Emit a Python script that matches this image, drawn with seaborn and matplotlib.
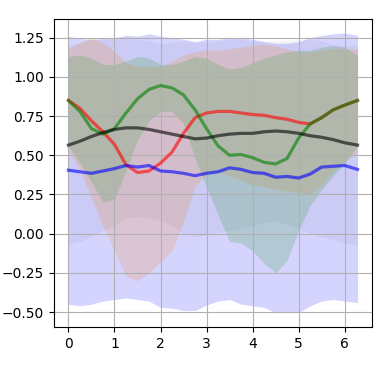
import numpy as np
import matplotlib
matplotlib.use("Agg")
import matplotlib.pyplot as plt
import seaborn as sns

# valeurs
x = [0, 0.25, 0.5, 0.75, 1.0, 1.25, 1.5, 1.75, 2.0, 2.25, 2.5, 2.75, 3.0,
     3.25, 3.5, 3.75, 4.0, 4.25, 4.5, 4.75, 5.0, 5.25, 5.5, 5.75, 6.0, 6.28]

red_mean = [0.85, 0.80, 0.72, 0.65, 0.57, 0.44, 0.39, 0.40, 0.45, 0.52, 0.64, 0.74, 0.77,
            0.78, 0.78, 0.77, 0.76, 0.755, 0.74, 0.73, 0.71, 0.70, 0.74, 0.79, 0.82, 0.85]
red_low = [0.53, 0.41, 0.23, 0.05, -0.11, -0.27, -0.30, -0.25, -0.18, -0.11, 0.08, 0.30, 0.38,
           0.39, 0.37, 0.34, 0.31, 0.30, 0.28, 0.27, 0.26, 0.25, 0.31, 0.40, 0.46, 0.52]
red_high = [1.18, 1.22, 1.25, 1.22, 1.16, 1.09, 1.065, 1.065, 1.065, 1.10, 1.14, 1.16, 1.17,
            1.17, 1.18, 1.19, 1.20, 1.21, 1.20, 1.18, 1.16, 1.16, 1.17, 1.18, 1.18, 1.18]

green_mean = [0.85, 0.78, 0.67, 0.635, 0.67, 0.77, 0.86, 0.92, 0.945, 0.93, 0.885, 0.79, 0.67,
              0.56, 0.50, 0.505, 0.485, 0.455, 0.445, 0.48, 0.61, 0.70, 0.74, 0.79, 0.82, 0.85]
green_low = [0.56, 0.45, 0.33, 0.20, 0.22, 0.40, 0.60, 0.72, 0.78, 0.78, 0.70, 0.48, 0.30,
             0.12, -0.05, -0.06, -0.11, -0.19, -0.25, -0.17, 0.02, 0.18, 0.28, 0.37, 0.45, 0.56]
green_high = [1.13, 1.14, 1.12, 1.08, 1.08, 1.10, 1.13, 1.12, 1.08, 1.08, 1.10, 1.13, 1.12,
              1.08, 1.05, 1.06, 1.09, 1.12, 1.14, 1.16, 1.17, 1.17, 1.19, 1.20, 1.19, 1.14]

blue_mean = [0.405, 0.395, 0.385, 0.40, 0.415, 0.435, 0.425, 0.435, 0.40, 0.395, 0.385, 0.37, 0.385,
             0.395, 0.42, 0.41, 0.39, 0.385, 0.36, 0.365, 0.355, 0.38, 0.425, 0.43, 0.435, 0.41]
blue_low = [-0.45, -0.46, -0.45, -0.43, -0.42, -0.41, -0.42, -0.43, -0.47, -0.475, -0.49, -0.49, -0.455,
            -0.43, -0.42, -0.45, -0.46, -0.47, -0.505, -0.50, -0.505, -0.46, -0.43, -0.42, -0.43, -0.44]
blue_high = [1.26, 1.245, 1.24, 1.245, 1.25, 1.265, 1.26, 1.275, 1.26, 1.25, 1.24, 1.225, 1.24,
             1.24, 1.25, 1.25, 1.24, 1.225, 1.215, 1.215, 1.225, 1.25, 1.265, 1.275, 1.28, 1.265]

black_mean = [0.565, 0.59, 0.62, 0.645, 0.665, 0.675, 0.675, 0.665, 0.65, 0.635, 0.62, 0.605, 0.61,
              0.625, 0.635, 0.64, 0.64, 0.65, 0.655, 0.65, 0.64, 0.625, 0.615, 0.60, 0.58, 0.565]
black_low = [-0.07, -0.05, -0.02, 0.02, 0.05, 0.10, 0.11, 0.10, 0.09, 0.05, 0.0, -0.02, -0.01,
             0.01, 0.02, 0.03, 0.05, 0.07, 0.08, 0.06, 0.03, 0.0, -0.02, -0.04, -0.06, -0.075]
black_high = [1.20, 1.22, 1.24, 1.24, 1.24, 1.245, 1.24, 1.23, 1.21, 1.22, 1.23, 1.22, 1.22,
              1.23, 1.24, 1.24, 1.23, 1.23, 1.235, 1.235, 1.24, 1.24, 1.23, 1.21, 1.20, 1.20]

# (couleur de la ligne, couleur de la bande, alpha de la bande, données)
series = [
    ("blue", "blue", 0.17, blue_mean, blue_low, blue_high),
    ("black", "black", 0.04, black_mean, black_low, black_high),
    ("red", "#ff7f0e", 0.18, red_mean, red_low, red_high),
    ("green", "#2ca02c", 0.2, green_mean, green_low, green_high),
]
line_order = ["red", "green", "blue", "black"]

fig, ax = plt.subplots(figsize=(3.8, 3.66), dpi=100)
fig.subplots_adjust(left=0.142, right=0.979, top=0.948, bottom=0.107)

for line_color, band_color, band_alpha, mean, low, high in series:
    ax.fill_between(x, low, high, color=band_color, alpha=band_alpha, linewidth=0)
for name in line_order:
    for line_color, band_color, band_alpha, mean, low, high in series:
        if line_color == name:
            sns.lineplot(x=x, y=mean, color=line_color, alpha=0.6, linewidth=2.3, ax=ax)

ax.grid(True)
plt.savefig("out.png", dpi=100)
